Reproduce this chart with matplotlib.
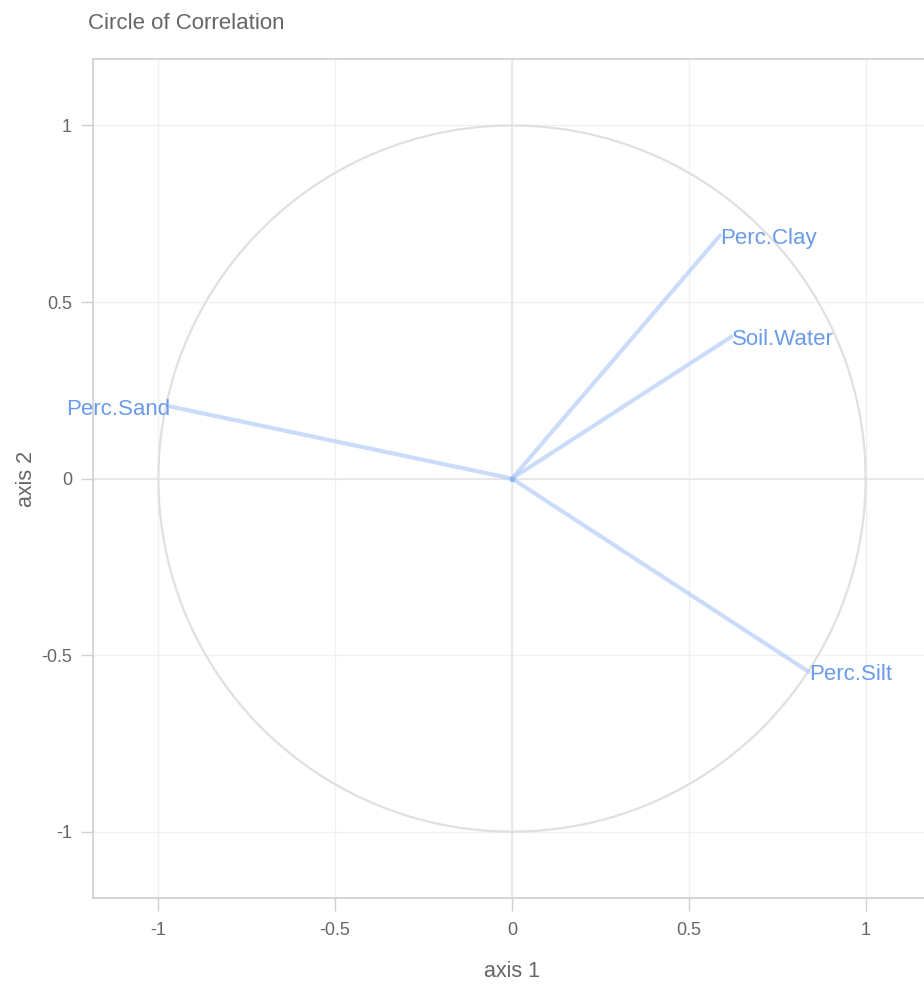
import matplotlib
matplotlib.use("Agg")
import matplotlib.pyplot as plt
import numpy as np

plt.rcParams['font.family'] = ['Liberation Sans', 'DejaVu Sans']

# correlation of each variable with axis 1 and axis 2
variables = ["Perc.Clay", "Soil.Water", "Perc.Sand", "Perc.Silt"]
axis1 = [0.588, 0.621, -0.966, 0.839]
axis2 = [0.688, 0.402, 0.204, -0.547]

ticks = [-1, -0.5, 0, 0.5, 1]
tick_labels = ["-1", "-0.5", "0", "0.5", "1"]

fig = plt.figure(figsize=(9.24, 9.85), dpi=100)
ax = fig.add_axes([0.1006, 0.0883, 0.907, 0.8517])

grey = "#666666"
ax.set_xlim(-1.185, 1.185)
ax.set_ylim(-1.188, 1.188)
ax.set_xticks(ticks)
ax.set_yticks(ticks)
ax.set_xticklabels(tick_labels)
ax.set_yticklabels(tick_labels)
ax.grid(True, color="#f0f0f0", lw=1.0, zorder=0)
ax.axhline(0, color="#e6e6e6", lw=1.2, zorder=1)
ax.axvline(0, color="#e6e6e6", lw=1.2, zorder=1)
ax.set_axisbelow(True)
for s in ax.spines.values():
    s.set_color("#d0d0d0")
    s.set_linewidth(1.2)
ax.tick_params(colors="#d0d0d0", labelcolor=grey, labelsize=13, length=9, width=1, pad=6)
ax.tick_params(axis="x", pad=8)

# unit circle
t = np.linspace(0, 2 * np.pi, 400)
ax.plot(np.cos(t), np.sin(t), color="#e0e0e0", lw=1.6, zorder=2)

# arrows and labels
for name, x, y in zip(variables, axis1, axis2):
    ax.plot([0, x], [0, y], color="#a8c6f5", alpha=0.6, lw=3, solid_capstyle="round", zorder=3)
    ha = "right" if x < 0 else "left"
    ax.text(x, y, name, color="#6a9bea", fontsize=16, ha=ha, va="center_baseline", zorder=4)
ax.plot(0, 0, "o", color="#8fb4f0", ms=3, zorder=4)

ax.set_xlabel("axis 1", color=grey, fontsize=15.5, labelpad=16)
ax.set_ylabel("axis 2", color=grey, fontsize=15.5, labelpad=3)
fig.text(88 / 924, 1 - 21 / 985, "Circle of Correlation", color=grey, fontsize=16, ha="left", va="center_baseline")

fig.savefig("out.png", dpi=100)
